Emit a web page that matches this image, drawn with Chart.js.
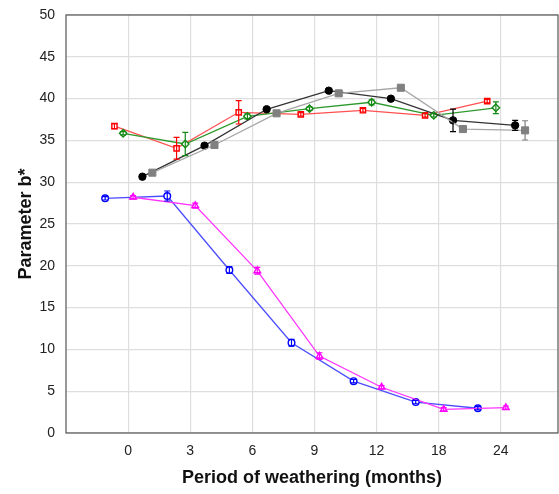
<!DOCTYPE html>
<html>
<head>
<meta charset="utf-8">
<script src="https://cdn.jsdelivr.net/npm/chart.js@4"></script>
<style>
  body { margin: 0; background: #fff; }
</style>
</head>
<body>
<canvas id="weatherChart" width="559" height="494"></canvas>
<script>
'use strict';

// months of weathering, shown as evenly spaced categories
let months = [0, 3, 6, 9, 12, 18, 24];

// horizontal shift of each series inside a category (in category units)
let blueShift = -0.37;
let magentaShift = 0.08;
let redShift = -0.22;
let greenShift = -0.08;
let blackShift = 0.23;
let grayShift = 0.39;

let blueValues = [28.07, 28.35, 19.5, 10.8, 6.2, 3.7, 2.96];
let blueErrors = [0.2, 0.6, 0.4, 0.4, 0.2, 0.2, 0.2];

let magentaValues = [28.2, 27.2, 19.4, 9.2, 5.47, 2.83, 3.03];
let magentaErrors = [0.2, 0.3, 0.4, 0.4, 0.2, 0.2, 0.2];

let redValues = [36.7, 34.05, 38.36, 38.12, 38.6, 38.0, 39.7];
let redErrors = [0.3, 1.3, 1.4, 0.2, 0.2, 0.2, 0.2];

let greenValues = [35.85, 34.57, 37.88, 38.8, 39.56, 38.0, 38.9];
let greenErrors = [0.2, 1.4, 0.3, 0.2, 0.3, 0.2, 0.7];

let blackValues = [30.66, 34.37, 38.72, 40.95, 39.99, 37.4, 36.8];
let blackErrors = [0.2, 0.2, 0.2, 0.2, 0.2, 1.35, 0.6];

let grayValues = [31.14, 34.45, 38.24, 40.63, 41.3, 36.36, 36.2];
let grayErrors = [0, 0, 0, 0, 0, 0, 1.15];

let yTicks = [0, 5, 10, 15, 20, 25, 30, 35, 40, 45, 50];

function toPoints(values, shift) {
  let pts = [];
  for (let i = 0; i < values.length; i++) {
    pts.push({ x: i + shift, y: values[i] });
  }
  return pts;
}

function makeSeries(label, values, errors, shift, lineColor, markColor, style, filled, radius) {
  return {
    label: label,
    data: toPoints(values, shift),
    errors: errors,
    borderColor: lineColor,
    borderWidth: 1.3,
    pointStyle: style,
    pointRadius: radius,
    pointBorderColor: markColor,
    pointBorderWidth: filled ? 1 : 1.4,
    pointBackgroundColor: filled ? markColor : '#ffffff',
    errorColor: markColor,
    tension: 0,
    fill: false
  };
}

// error bars, drawn from the chart's own y scale
const errorBars = {
  id: 'errorBars',
  afterDatasetsDraw(chart) {
    let ctx = chart.ctx;
    let yScale = chart.scales.y;
    chart.data.datasets.forEach((ds, di) => {
      let meta = chart.getDatasetMeta(di);
      ctx.save();
      ctx.strokeStyle = ds.errorColor;
      ctx.lineWidth = 1.2;
      meta.data.forEach((pt, i) => {
        let err = ds.errors[i];
        if (!err) return;
        let v = ds.data[i].y;
        let top = yScale.getPixelForValue(v + err);
        let bot = yScale.getPixelForValue(v - err);
        ctx.beginPath();
        ctx.moveTo(pt.x, top);
        ctx.lineTo(pt.x, bot);
        ctx.moveTo(pt.x - 3, top);
        ctx.lineTo(pt.x + 3, top);
        ctx.moveTo(pt.x - 3, bot);
        ctx.lineTo(pt.x + 3, bot);
        ctx.stroke();
      });
      ctx.restore();
    });
  }
};

// box round the plot area
const frame = {
  id: 'frame',
  afterDraw(chart) {
    let a = chart.chartArea;
    let ctx = chart.ctx;
    ctx.save();
    ctx.strokeStyle = '#555555';
    ctx.lineWidth = 1.2;
    ctx.strokeRect(a.left, a.top, a.right - a.left, a.bottom - a.top);
    ctx.restore();
  }
};

const data = {
  datasets: [
    makeSeries('gray', grayValues, grayErrors, grayShift, '#a6a6a6', '#808080', 'rect', true, 5),
    makeSeries('black', blackValues, blackErrors, blackShift, '#333333', '#000000', 'circle', true, 3.7),
    makeSeries('green', greenValues, greenErrors, greenShift, '#2e9a2e', '#138a13', 'rectRot', false, 3.7),
    makeSeries('red', redValues, redErrors, redShift, '#ff5050', '#ff0000', 'rect', false, 3.7),
    makeSeries('magenta', magentaValues, magentaErrors, magentaShift, '#ff33ff', '#ff00ff', 'triangle', false, 3.8),
    makeSeries('blue', blueValues, blueErrors, blueShift, '#4d4dff', '#0000ff', 'circle', false, 3.3)
  ]
};

const config = {
  type: 'line',
  data: data,
  options: {
    responsive: false,
    animation: false,
    layout: { autoPadding: false, padding: { top: 15, right: 1, left: 0, bottom: 0 } },
    plugins: {
      legend: { display: false },
      tooltip: { enabled: false }
    },
    scales: {
      x: {
        type: 'linear',
        min: -1,
        max: 6.92,
        afterBuildTicks: axis => {
          axis.ticks = months.map((m, i) => ({ value: i }));
        },
        afterFit: axis => {
          axis.height = 61;
          axis.paddingLeft = 0;
          axis.paddingRight = 0;
        },
        grid: { color: '#dedede', lineWidth: 1.2, drawTicks: false },
        border: { display: false },
        ticks: {
          padding: 10,
          color: '#222222',
          font: { family: '"Liberation Sans", Arial, sans-serif', size: 14 },
          callback: v => months[v]
        },
        title: {
          display: true,
          text: 'Period of weathering (months)',
          color: '#111111',
          font: { family: '"Liberation Sans", Arial, sans-serif', size: 18, weight: 'bold' },
          padding: { top: 0, bottom: 5 }
        }
      },
      y: {
        min: 0,
        max: 50,
        afterBuildTicks: axis => {
          axis.ticks = yTicks.map(v => ({ value: v }));
        },
        afterFit: axis => {
          axis.width = 66;
          axis.paddingTop = 0;
          axis.paddingBottom = 0;
        },
        grid: { color: '#dedede', lineWidth: 1.2, drawTicks: false },
        border: { display: false },
        ticks: {
          padding: 11,
          color: '#222222',
          font: { family: '"Liberation Sans", Arial, sans-serif', size: 14 }
        },
        title: {
          display: true,
          text: 'Parameter b*',
          color: '#111111',
          font: { family: '"Liberation Sans", Arial, sans-serif', size: 18, weight: 'bold' },
          padding: { top: 15, bottom: 0 }
        }
      }
    }
  },
  plugins: [errorBars, frame]
};

const weatherChart = new Chart(document.getElementById('weatherChart'), config);
</script>
</body>
</html>
